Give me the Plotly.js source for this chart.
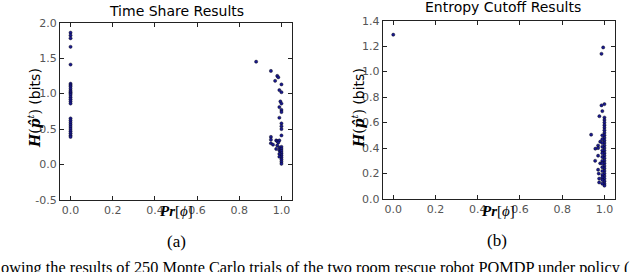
<!DOCTYPE html>
<html><head><meta charset="utf-8">
<script src="https://cdn.plot.ly/plotly-3.0.1.min.js"></script>
<style>html,body{margin:0;padding:0;background:#fff}#c{width:640px;height:272px}</style>
</head><body><div id="c"></div>
<script>
// (a) Time Share Results
const tsX = [0,0,0,0,0,0,0,0,0,0,0,0,0,0,0,0,0,0,0,0,0,0,0,0,0,0,0,
  0.88,0.95,0.98,0.985,0.97,1.0,0.99,1.0,0.995,1.0,0.99,1.0,1.0,0.99,1.0,1.0,1.0,1.0,0.95,0.95,0.95,0.96,0.975,0.98,0.99,0.985,0.98,0.975,0.99,0.99,0.995,1.0,1.0,1.0,1.0,1.0,1.0,1.0,1.0,1.0,0.99,0.99];
const tsY = [1.86,1.82,1.78,1.66,1.41,1.14,1.12,1.10,1.07,1.04,1.02,1.00,0.98,0.95,0.92,0.89,0.86,0.65,0.62,0.59,0.56,0.53,0.50,0.47,0.44,0.41,0.39,
  1.45,1.32,1.25,1.23,1.18,1.13,1.05,1.02,0.89,0.86,0.81,0.77,0.74,0.66,0.58,0.54,0.50,0.41,0.39,0.35,0.30,0.28,0.34,0.33,0.34,0.31,0.27,0.22,0.24,0.20,0.18,0.25,0.22,0.19,0.16,0.13,0.10,0.07,0.04,0.01,0.15,0.11];
// (b) Entropy Cutoff Results
const ecX = [0.0,0.994,0.986,1.0,0.986,0.99,0.976,0.937,0.957,0.97,0.97,0.97,0.956,0.973,0.97,0.98,0.98,0.975,0.975,
  1.0,1.0,1.0,1.0,1.0,1.0,1.0,1.0,1.0,1.0,1.0,1.0,1.0,1.0,1.0,1.0,1.0,1.0,1.0,1.0,1.0,1.0,1.0,1.0,1.0,1.0,1.0,1.0,
  0.99,0.99,0.99,0.99,0.99,0.99,0.99,0.99,0.99,0.99,0.99,0.99,0.99,0.99,0.99];
const ecY = [1.29,1.19,1.14,0.745,0.735,0.69,0.65,0.505,0.395,0.42,0.40,0.34,0.30,0.20,0.23,0.45,0.28,0.16,0.13,
  0.64,0.62,0.60,0.58,0.56,0.54,0.52,0.50,0.48,0.46,0.44,0.42,0.40,0.38,0.36,0.34,0.32,0.30,0.28,0.26,0.24,0.22,0.20,0.18,0.16,0.14,0.12,0.105,
  0.50,0.47,0.44,0.41,0.38,0.36,0.33,0.30,0.28,0.25,0.22,0.19,0.17,0.15,0.12];
const xTicks = [0.0,0.2,0.4,0.6,0.8,1.0];
const xTickText = ['0.0','0.2','0.4','0.6','0.8','1.0'];
const tsYTicks = [-0.5,0.0,0.5,1.0,1.5,2.0];
const tsYText = ['-0.5','0.0','0.5','1.0','1.5','2.0'];
const ecYTicks = [0.0,0.2,0.4,0.6,0.8,1.0,1.2,1.4];
const ecYText = ['0.0','0.2','0.4','0.6','0.8','1.0','1.2','1.4'];

const W=640,H=272;
const px = v=>v/W, py = v=>1-v/H;
const mk = {color:'#1a1a90', size:3.2, line:{color:'#000', width:0.4}};
const traces = [
  {x:tsX, y:tsY, type:'scatter', mode:'markers', marker:mk, xaxis:'x', yaxis:'y', hoverinfo:'none'},
  {x:ecX, y:ecY, type:'scatter', mode:'markers', marker:mk, xaxis:'x2', yaxis:'y2', hoverinfo:'none'}
];
const tickFont = {family:'DejaVu Sans', size:11, color:'#555'};
function ax(extra){
  return Object.assign({showline:true, linecolor:'#222', linewidth:1, mirror:'ticks', ticks:'inside', ticklen:4, tickcolor:'#222',
    showgrid:false, zeroline:false, tickfont:tickFont, fixedrange:true}, extra);
}
const serif = 'Liberation Serif';
const yTitle = '<span style="font-family:DejaVu Serif"><b><i>H</i></b>(<b><i>p̂</i></b><sup><i>t</i></sup>)</span> (bits)';
const layout = {
  width:W, height:H, margin:{l:0,r:0,t:0,b:0}, paper_bgcolor:'#fff', plot_bgcolor:'#fff', showlegend:false,
  xaxis: ax({domain:[px(60),px(292)], range:[-0.05,1.05], tickvals:xTicks, ticktext:xTickText, anchor:'y'}),
  yaxis: ax({domain:[py(200),py(22.7)], range:[-0.5,2.0], tickvals:tsYTicks, ticktext:tsYText, anchor:'x'}),
  xaxis2: ax({domain:[px(382.7),px(615)], range:[-0.05,1.05], tickvals:xTicks, ticktext:xTickText, anchor:'y2'}),
  yaxis2: ax({domain:[py(199),py(20.7)], range:[0,1.4], tickvals:ecYTicks, ticktext:ecYText, anchor:'x2'}),
  annotations:[
    {text:'Time Share Results', x:px(176), y:py(11), xref:'paper', yref:'paper', showarrow:false, xanchor:'center', yanchor:'middle', font:{family:'DejaVu Sans', size:14, color:'#000'}},
    {text:'Entropy Cutoff Results', x:px(503), y:py(7), xref:'paper', yref:'paper', showarrow:false, xanchor:'center', yanchor:'middle', font:{family:'DejaVu Sans', size:14, color:'#000'}},
    {text:yTitle, x:px(34), y:py(108), xref:'paper', yref:'paper', showarrow:false, textangle:-90, xanchor:'center', yanchor:'middle', font:{family:'DejaVu Sans', size:14, color:'#000'}},
    {text:yTitle, x:px(358), y:py(108), xref:'paper', yref:'paper', showarrow:false, textangle:-90, xanchor:'center', yanchor:'middle', font:{family:'DejaVu Sans', size:14, color:'#000'}},
    {text:'<b><i>Pr</i></b>[<i>ϕ</i>]', x:px(176), y:py(211), xref:'paper', yref:'paper', showarrow:false, xanchor:'center', yanchor:'middle', font:{family:serif, size:15, color:'#000'}},
    {text:'<b><i>Pr</i></b>[<i>ϕ</i>]', x:px(498), y:py(211), xref:'paper', yref:'paper', showarrow:false, xanchor:'center', yanchor:'middle', font:{family:serif, size:15, color:'#000'}},
    {text:'(a)', x:px(176), y:py(241), xref:'paper', yref:'paper', showarrow:false, xanchor:'center', yanchor:'middle', font:{family:serif, size:17, color:'#000'}},
    {text:'(b)', x:px(497), y:py(240), xref:'paper', yref:'paper', showarrow:false, xanchor:'center', yanchor:'middle', font:{family:serif, size:17, color:'#000'}},
    {text:'owing the results of 250 Monte Carlo trials of the two room rescue robot POMDP under policy (', x:px(-1), y:py(267), xref:'paper', yref:'paper', showarrow:false, xanchor:'left', yanchor:'middle', font:{family:serif, size:16.3, color:'#000'}}
  ]
};
Plotly.newPlot('c', traces, layout, {staticPlot:true, displayModeBar:false});
</script></body></html>
